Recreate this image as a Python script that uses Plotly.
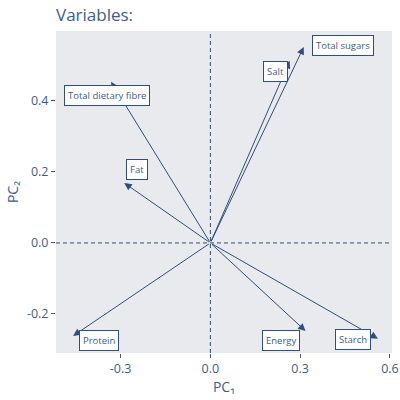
import plotly.graph_objects as go

variables = ["Total dietary fibre", "Salt", "Total sugars", "Fat", "Protein", "Energy", "Starch"]
pc1 = [-0.332, 0.265, 0.312, -0.288, -0.459, 0.318, 0.560]
pc2 = [0.454, 0.513, 0.552, 0.169, -0.262, -0.248, -0.270]

x_ticks = [-0.3, 0.0, 0.3, 0.6]
y_ticks = [-0.2, 0.0, 0.2, 0.4]

# label pixel offsets from arrow tips (repel-like placement)
label_shift = {
    "Total dietary fibre": (-4, -14),
    "Salt": (-14, -11),
    "Total sugars": (39, 1),
    "Fat": (13, 13),
    "Protein": (26, -5),
    "Energy": (-25, -10),
    "Starch": (-25, -1),
}

blue = "#2f4e7e"
text_blue = "#3c5d93"
font_fam = "Open Sans"

fig = go.Figure()
fig.add_trace(go.Scatter(x=pc1, y=pc2, mode="markers", marker=dict(opacity=0), hoverinfo="skip", showlegend=False))

fig.add_hline(y=0, line=dict(color=blue, width=1, dash="4px,3px"))
fig.add_vline(x=0, line=dict(color=blue, width=1, dash="4px,3px"))

for name, x, y in zip(variables, pc1, pc2):
    fig.add_annotation(x=x, y=y, ax=0, ay=0, xref="x", yref="y", axref="x", ayref="y",
                       text="", showarrow=True, arrowhead=2, arrowsize=1.5, arrowwidth=1,
                       arrowcolor=blue)
    dx, dy = label_shift[name]
    fig.add_annotation(x=x, y=y, xref="x", yref="y", text=name, showarrow=False,
                       xshift=dx, yshift=dy, bgcolor="white", bordercolor=blue, borderwidth=1,
                       borderpad=3, font=dict(size=9.5, color=text_blue, family=font_fam))

fig.update_layout(
    width=400, height=400,
    margin=dict(l=56, r=8, t=31, b=47, autoexpand=False),
    plot_bgcolor="#e9eaed", paper_bgcolor="white",
    font=dict(family=font_fam, color=text_blue),
    title=dict(text="Variables:", x=0, xref="paper", xanchor="left", y=0.962, yanchor="middle",
               font=dict(size=17, color=text_blue)),
    showlegend=False,
)
fig.update_xaxes(range=[-0.516, 0.607], tickvals=x_ticks, ticktext=[f"{v:.1f}" for v in x_ticks],
                 showgrid=False, zeroline=False, ticks="outside", ticklen=4, tickcolor="#555",
                 automargin=False, tickfont=dict(size=12.5, color=text_blue),
                 title=dict(text="PC₁", font=dict(size=14, color=text_blue), standoff=4))
fig.update_yaxes(range=[-0.31, 0.597], tickvals=y_ticks, ticktext=[f"{v:.1f}" for v in y_ticks],
                 showgrid=False, zeroline=False, ticks="outside", ticklen=4, tickcolor="#555",
                 automargin=False, tickfont=dict(size=12.5, color=text_blue),
                 title=dict(text="PC₂", font=dict(size=14, color=text_blue), standoff=4))

fig.write_html("out.html")
